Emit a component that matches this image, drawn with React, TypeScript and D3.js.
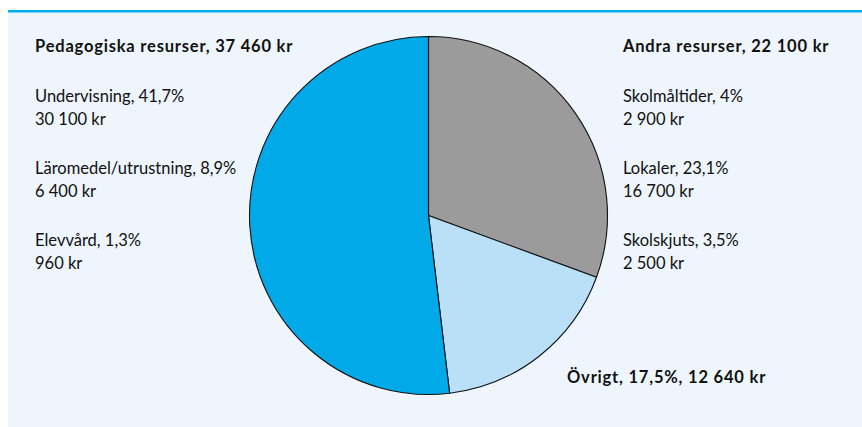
import {useEffect, useRef} from "react";
import * as d3 from "d3";

type Slice = {
  name: string;
  value: number;
  color: string;
}

// main groups, drawn clockwise from 12 o'clock
const groups = ["Andra resurser", "Övrigt", "Pedagogiska resurser"];
const groupValues = [22100, 12640, 37460];
const groupColors = ["#9b9b9b", "#b9e0f6", "#00a9e8"];

const leftItems = ["Undervisning, 41,7%", "Läromedel/utrustning, 8,9%", "Elevvård, 1,3%"];
const leftAmounts = ["30 100 kr", "6 400 kr", "960 kr"];
const rightItems = ["Skolmåltider, 4%", "Lokaler, 23,1%", "Skolskjuts, 3,5%"];
const rightAmounts = ["2 900 kr", "16 700 kr", "2 500 kr"];

const leftTitle = "Pedagogiska resurser, 37 460 kr";
const rightTitle = "Andra resurser, 22 100 kr";
const otherTitle = "Övrigt, 17,5%, 12 640 kr";

export default function App() {
  const svgRef = useRef<SVGSVGElement | null>(null);

  useEffect(() => {
    const width = 862;
    const height = 427;
    const font = "Lato, 'Open Sans', sans-serif";

    const svg = d3.select(svgRef.current)
        .attr("width", width)
        .attr("height", height);
    svg.selectAll("*").remove();

    // panel background and top rule
    svg.append("rect")
        .attr("x", 8)
        .attr("y", 12)
        .attr("width", width - 8)
        .attr("height", height - 12)
        .attr("fill", "#eef5fc");

    svg.append("rect")
        .attr("x", 8)
        .attr("y", 10)
        .attr("width", width - 8)
        .attr("height", 2.5)
        .attr("fill", "#00aeef");

    const data: Slice[] = groups.map((g, i) => ({name: g, value: groupValues[i], color: groupColors[i]}));

    const pie = d3.pie<Slice>().sort(null).value(d => d.value);
    const arc = d3.arc<d3.PieArcDatum<Slice>>().innerRadius(0).outerRadius(179);

    const g = svg.append("g")
        .attr("transform", "translate(428.5,215.5)");

    g.selectAll("path")
        .data(pie(data))
        .enter().append("path")
        .attr("d", arc)
        .attr("fill", d => d.data.color)
        .attr("stroke", "#111")
        .attr("stroke-width", 1.1)
        .attr("stroke-linejoin", "round");

    const text = (x: number, y: number, s: string, bold = false) => {
      svg.append("text")
          .attr("x", x)
          .attr("y", y)
          .attr("font-family", font)
          .attr("font-size", 16.5)
          .attr("font-weight", bold ? 700 : 400)
          .attr("letter-spacing", bold ? 0.8 : 0)
          .attr("fill", "#111")
          .text(s);
    };

    text(35, 52, leftTitle, true);
    text(623, 52, rightTitle, true);
    text(567, 383, otherTitle, true);

    leftItems.forEach((s, i) => {
      text(35, 102 + i * 72, s);
      text(35, 125 + i * 72, leftAmounts[i]);
    });
    rightItems.forEach((s, i) => {
      text(623, 102 + i * 72, s);
      text(623, 125 + i * 72, rightAmounts[i]);
    });
  }, []);

  return (
      <div style={{position: "absolute", left: 0, top: 0}}>
        <svg ref={svgRef} style={{display: "block"}}/>
      </div>
  );
}
